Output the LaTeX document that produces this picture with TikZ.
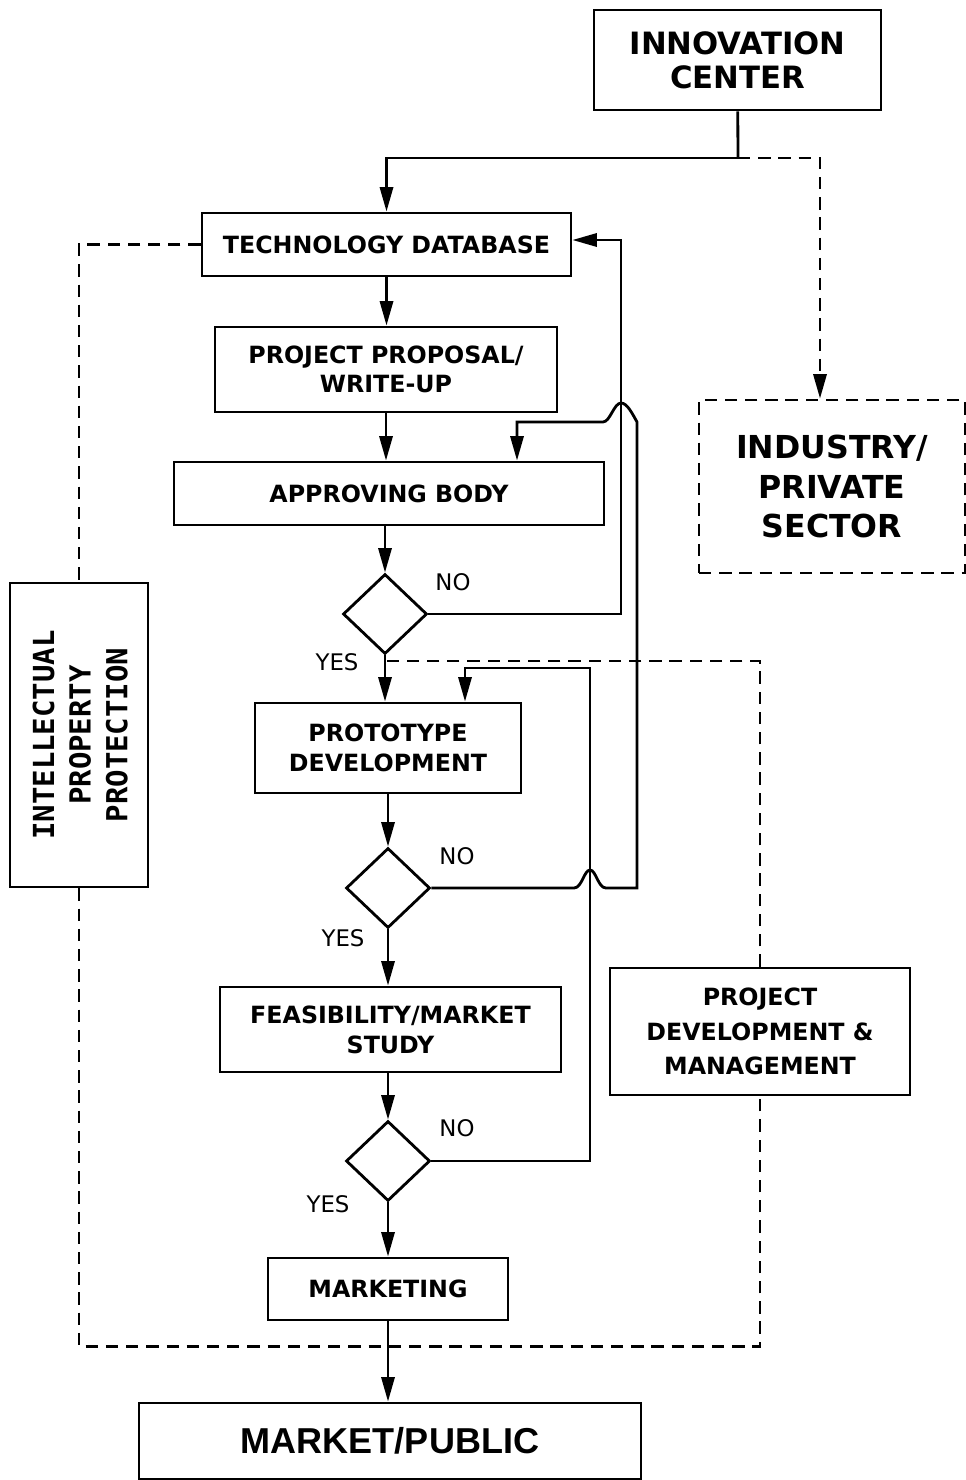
\documentclass[tikz,border=0pt]{standalone}
\usepackage{fontspec}
\usetikzlibrary{shapes.geometric,arrows.meta}
\newfontfamily\boxfont{DejaVu Sans}
\newfontfamily\pubfont{Liberation Sans}
\newfontfamily\ippfont{DejaVu Sans Mono}

\begin{document}
\begin{tikzpicture}[x=0.02cm,y=-0.02cm,
	box/.style={draw,line width=1.6pt,inner sep=0pt,align=center,font=\boxfont\bfseries\fontsize{13.5}{16.5}\selectfont},
	dbox/.style={box,dash pattern=on 7pt off 4.5pt},
	dec/.style={draw,diamond,line width=1.6pt,inner sep=0pt,minimum width=1.68cm,minimum height=1.6cm},
	ln/.style={line width=1.6pt},
	arr/.style={ln,-{Triangle[length=14pt,width=7.5pt]}},
	dln/.style={ln,dash pattern=on 7pt off 4.5pt},
	darr/.style={dln,-{Triangle[length=14pt,width=7.5pt]}},
	ans/.style={font=\boxfont\fontsize{13}{15}\selectfont}]
	\useasboundingbox (0,0) rectangle (966,1480);

	% boxes
	\node[box,minimum width=5.74cm,minimum height=2cm,font=\boxfont\bfseries\fontsize{17.5}{19.5}\selectfont] (innov) at (737.5,60) {INNOVATION\\CENTER};
	\node[box,minimum width=7.38cm,minimum height=1.26cm] (techdb) at (386.5,244.5) {TECHNOLOGY DATABASE};
	\node[box,minimum width=6.84cm,minimum height=1.7cm] (proposal) at (386,369.5) {PROJECT PROPOSAL/\\WRITE-UP};
	\node[box,minimum width=8.6cm,minimum height=1.26cm] (approve) at (389,493.5) {APPROVING BODY};
	\node[dec] (dec1) at (385,614) {};
	\node[box,minimum width=5.32cm,minimum height=1.8cm,font=\boxfont\bfseries\fontsize{13.5}{17}\selectfont] (proto) at (388,748) {PROTOTYPE\\DEVELOPMENT};
	\node[dec] (dec2) at (388,888) {};
	\node[box,minimum width=6.82cm,minimum height=1.7cm,font=\boxfont\bfseries\fontsize{13.5}{17}\selectfont] (feas) at (390.5,1029.5) {FEASIBILITY/MARKET\\STUDY};
	\node[dec] (dec3) at (388,1161) {};
	\node[box,minimum width=4.8cm,minimum height=1.24cm] (mkt) at (388,1289) {MARKETING};
	\node[box,minimum width=10.04cm,minimum height=1.52cm,font=\pubfont\bfseries\fontsize{20.5}{24}\selectfont] (public) at (390,1441) {MARKET/PUBLIC};

	\node[dbox,minimum width=5.32cm,minimum height=3.46cm,font=\boxfont\bfseries\fontsize{18}{22.7}\selectfont] (industry) at (832,486.5) {INDUSTRY/\\PRIVATE\\SECTOR};
	\node[box,minimum width=2.76cm,minimum height=6.08cm] (ipp) at (79,735) {\hspace{5pt}\rotatebox{90}{\ippfont\fontsize{16.5}{19}\selectfont\renewcommand\arraystretch{1.1}\begin{tabular}{@{}c@{}}INTELLECTUAL\\PROPERTY\\PROTECTION\end{tabular}}};
	\node[box,minimum width=6cm,minimum height=2.54cm,font=\boxfont\bfseries\fontsize{13.5}{19.5}\selectfont] (pdm) at (760,1031.5) {PROJECT\\DEVELOPMENT \&\\MANAGEMENT};

	% yes / no
	\node[ans] (no1) at (453,582) {NO};
	\node[ans] (yes1) at (337,662) {YES};
	\node[ans] (no2) at (457,856) {NO};
	\node[ans] (yes2) at (343,938) {YES};
	\node[ans] (no3) at (457,1128) {NO};
	\node[ans] (yes3) at (328,1204) {YES};

	% main flow
	\coordinate (split) at (738,158);
	\draw[ln] (innov) -- (split);
	\draw[arr] (split) -| (techdb.north);
	\draw[arr] (techdb.south) -- (techdb.south |- proposal.north);
	\draw[arr] (proposal.south) -- (proposal.south |- approve.north);
	\draw[arr] (dec1.north |- approve.south) -- (dec1.north);
	\draw[arr] (dec1.south) -- (dec1.south |- proto.north);
	\draw[arr] (dec2.north |- proto.south) -- (dec2.north);
	\draw[arr] (dec2.south) -- (dec2.south |- feas.north);
	\draw[arr] (dec3.north |- feas.south) -- (dec3.north);
	\draw[arr] (dec3.south) -- (dec3.south |- mkt.north);
	\draw[arr] (mkt.south) -- (mkt.south |- public.north);

	% NO loops (with hops over crossings)
	\draw[arr] (dec1.east) -| (621,240) -- (621,240 -| techdb.east);
	\draw[arr] (dec2.east) -- (574,888) .. controls (582,888) and (584,870) .. (590,870)
		.. controls (596,870) and (598,888) .. (606,888) -- (637,888) -- (637,422)
		.. controls (632,413) and (627,403) .. (621,403) .. controls (614,403) and (610,422) .. (603,422)
		-- (517,422) -- (517,422 |- approve.north);
	\draw[arr] (dec3.east) -| (590,668) -- (465,668) -- (465,668 |- proto.north);

	% dashed links
	\draw[darr] (split) -- (820,158) -- (820,158 |- industry.north);
	\draw[dln] (techdb.west) -| (ipp.north);
	\draw[dln] (ipp.south) -- ++(0,458) -| (pdm.south);
	\draw[dln] (pdm.north) |- (dec1.south |- 0,661);
\end{tikzpicture}
\end{document}
